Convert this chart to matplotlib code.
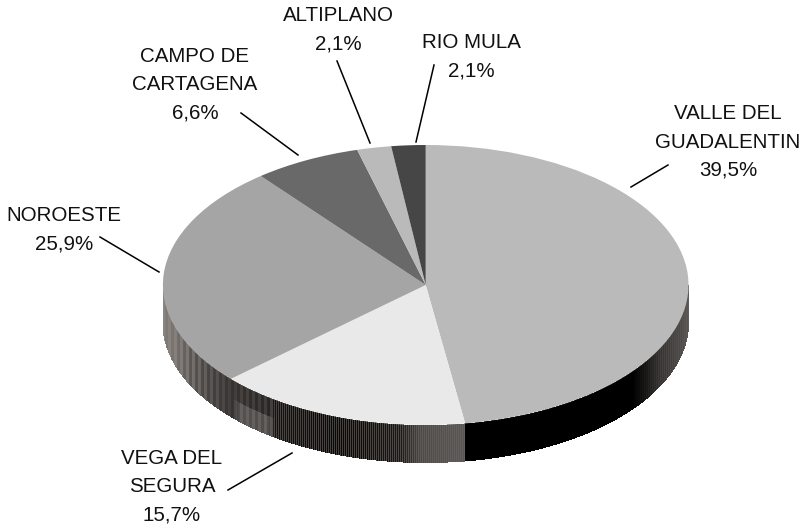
import numpy as np
import matplotlib
matplotlib.use("Agg")
import matplotlib.pyplot as plt

plt.rcParams['font.family'] = ['Liberation Sans', 'DejaVu Sans']

# slices clockwise from 12 o'clock. drawn sizes differ from the printed % for valle
names = ["VALLE DEL\nGUADALENTIN", "VEGA DEL\nSEGURA", "NOROESTE", "CAMPO DE\nCARTAGENA", "ALTIPLANO", "RIO MULA"]
drawn_share = [47.6, 15.7, 25.9, 6.6, 2.1, 2.1]
printed_pct = ["39,5%", "15,7%", "25,9%", "6,6%", "2,1%", "2,1%"]
top_colors = ["#bababa", "#e9e9e9", "#a5a5a5", "#696969", "#bababa", "#464646"]

# label centre and leader line, in pixels of the 803x528 picture
label_xy = [(728, 142), (172, 487), (64, 230), (195, 85), (338, 30), (471, 57)]
leader = [((631, 187), (668, 165)), ((292, 453), (228, 490)), ((159, 272), (100, 237)),
          ((298, 155), (241, 113)), ((370, 143), (337, 61)), ((416, 142), (434, 65))]

# ellipse of the top face and height of the side wall
cx, cy, rx, ry = 425.7, 285, 262.8, 140
depth = 38

# side wall shading along x (pixels): upper part, lower part, stripe strength
wall_x = [163, 175, 190, 205, 232, 240, 268, 275, 340, 400, 420, 464, 465, 632, 645, 660, 680, 690]
wall_up = [135, 125, 105, 85, 58, 60, 52, 45, 38, 50, 85, 95, 0, 0, 25, 60, 80, 95]
wall_lo = [135, 125, 105, 85, 58, 92, 90, 45, 38, 50, 85, 95, 0, 0, 25, 60, 80, 95]
wall_amp = [4, 8, 14, 12, 5, 8, 10, 26, 30, 25, 8, 5, 0, 0, 3, 5, 4, 3]

fig = plt.figure(figsize=(8.03, 5.28), dpi=100)

# pixel axes for wall, labels and leader lines
bg = fig.add_axes([0, 0, 1, 1])
bg.set_xlim(0, 803)
bg.set_ylim(528, 0)
bg.axis("off")

cols = np.arange(163, 689)
edges = np.arange(163, 690).astype(float)
t = np.linspace(0, 1, 9)
half = np.sqrt(np.clip(1 - ((edges - cx) / rx) ** 2, 0, 1))
X = np.tile(edges, (len(t), 1))
Y = np.array([cy + ry * half + depth * v for v in t])
up = np.interp(cols, wall_x, wall_up)
lo = np.interp(cols, wall_x, wall_lo)
amp = np.interp(cols, wall_x, wall_amp)
# wide bands at the far left, fine ones along the front
band = np.where(cols < 272, (cols // 3) % 2, cols % 2)
stripes = np.where(band == 0, 1, -1) * amp
rgb = np.zeros((len(t) - 1, len(cols), 3))
for i in range(len(t) - 1):
    level = np.where(t[i] < 0.45, up, lo) + stripes
    level = np.clip(level, 0, 255) / 255
    rgb[i, :, 0] = level
    rgb[i, :, 1] = level * 0.96
    rgb[i, :, 2] = level * 0.93
bg.pcolormesh(X, Y, rgb, shading="flat", antialiased=False, linewidth=0, rasterized=True)

for name, pct, (lx, ly), (p0, p1) in zip(names, printed_pct, label_xy, leader):
    bg.text(lx, ly, name + "\n" + pct, ha="center", va="center", fontsize=14.8,
            linespacing=1.63, color="#111111")
    bg.plot([p0[0], p1[0]], [p0[1], p1[1]], color="black", lw=1.1)

# top face, axes stretched over the ellipse so the circle turns flat
ax = fig.add_axes([(cx - rx) / 803, (528 - cy - ry) / 528, 2 * rx / 803, 2 * ry / 528])
ax.patch.set_alpha(0)
ax.pie(drawn_share, colors=top_colors, startangle=90, counterclock=False, radius=1,
       wedgeprops={"linewidth": 0})
ax.set_aspect("auto")
ax.set_xlim(-1, 1)
ax.set_ylim(-1, 1)
ax.axis("off")

fig.savefig("out.png", dpi=100)
